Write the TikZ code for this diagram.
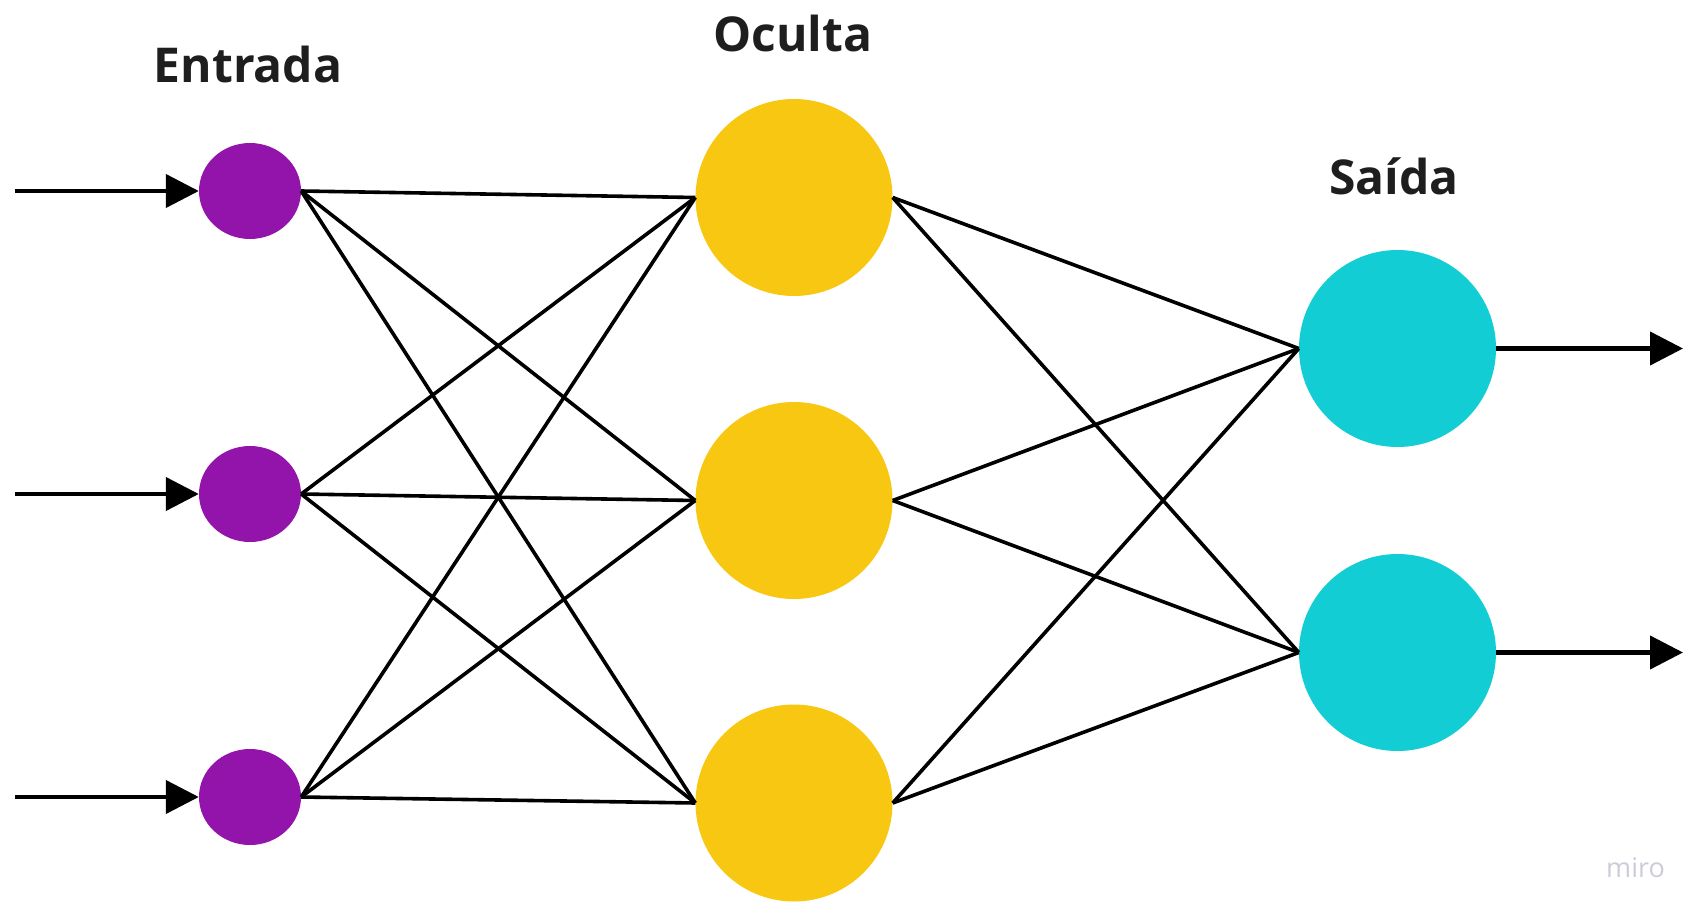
\documentclass[tikz,border=0pt]{standalone}
\usepackage{fontspec}
\setmainfont{Open Sans}
\usetikzlibrary{shapes.geometric,arrows.meta}
\definecolor{inpurple}{HTML}{9314AB}
\definecolor{hidyellow}{HTML}{F8C712}
\definecolor{outcyan}{HTML}{13CDD4}
\definecolor{titletext}{HTML}{1E1E1E}
\definecolor{mirogray}{HTML}{CCCCD8}
\tikzset{
  innode/.style={ellipse, fill=inpurple, draw=none, minimum width=102pt, minimum height=96pt, inner sep=0pt},
  hidnode/.style={circle, fill=hidyellow, draw=none, minimum size=197pt, inner sep=0pt},
  outnode/.style={circle, fill=outcyan, draw=none, minimum size=197pt, inner sep=0pt},
  link/.style={line width=3.6pt, black},
  flow/.style={line width=4.2pt, black, -{Triangle[length=33pt,width=33pt]}},
  title/.style={anchor=base, font=\bfseries\fontsize{48}{54}\selectfont, text=titletext, inner sep=0pt}
}
\begin{document}
\begin{tikzpicture}[x=1pt,y=-1pt]
\useasboundingbox (0,0) rectangle (1702,917);
% labels
\node[title] (tin) at (248,82.3) {Entrada};
\node[title] (thid) at (793,51.7) {Oculta};
\node[title] (tout) at (1394,195) {Saída};
\node[anchor=base, font=\fontsize{27}{30}\selectfont, text=mirogray, inner sep=0pt] (miro) at (1635.5,877.7) {miro};
% nodes
\node[innode] (i1) at (250,191) {};
\node[innode] (i2) at (250,494) {};
\node[innode] (i3) at (250,797) {};
\node[hidnode] (h1) at (794,197.5) {};
\node[hidnode] (h2) at (794,500.5) {};
\node[hidnode] (h3) at (794,803) {};
\node[outnode] (o1) at (1397.5,348.5) {};
\node[outnode] (o2) at (1397.5,652.5) {};
% input/output free ends
\coordinate (a1) at (15,191);
\coordinate (a2) at (15,494);
\coordinate (a3) at (15,797);
\coordinate (b1) at (1683,348.5);
\coordinate (b2) at (1683,652.5);
% connections
\foreach \i in {1,2,3}{
  \foreach \h in {1,2,3}{
    \draw[link] (i\i.east) -- (h\h.west);
  }
}
\foreach \h in {1,2,3}{
  \foreach \o in {1,2}{
    \draw[link] (h\h.east) -- (o\o.west);
  }
}
\draw[flow] (a1) -- (i1.west);
\draw[flow] (a2) -- (i2.west);
\draw[flow] (a3) -- (i3.west);
\draw[flow] (o1.east) -- (b1);
\draw[flow] (o2.east) -- (b2);
\end{tikzpicture}
\end{document}
